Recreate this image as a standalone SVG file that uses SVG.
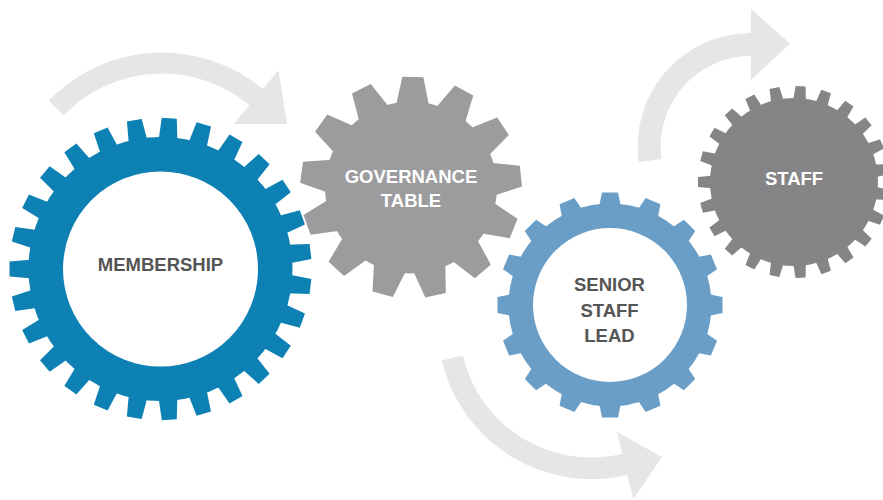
<svg xmlns="http://www.w3.org/2000/svg" width="883" height="500" viewBox="0 0 883 500">
<style>
.arrow{fill:#e6e6e6}
.lbl{font-family:"Liberation Sans",Arial,sans-serif;font-weight:bold;font-size:18.5px;text-anchor:middle}
.dark{fill:#555555}
.light{fill:#ffffff}
.blue{fill:#0e81b4}
.lblue{fill:#6a9ec6}
.gray{fill:#9c9c9e}
.dgray{fill:#858587}
</style>
<defs>
<polygon id="tM" points="128,-9.5 151,-7.5 151,7.5 128,9.5"/>
<polygon id="tG" points="82,-16.5 110.5,-10.5 110.5,10.5 82,16.5"/>
<polygon id="tS" points="98,-11 112.5,-8 112.5,8 98,11"/>
<polygon id="tF" points="80,-6.5 96,-5 96,5 80,6.5"/>
</defs>
<g id="connectors">
<path class="arrow" d="M48.7,100.6 A157.5,157.5 0 0 1 262.8,89 L278.5,70.2 L287,124 L233.7,124 L249.4,105.1 A136.5,136.5 0 0 0 63.8,115.2 Z"/>
<path class="arrow" d="M638.7,162.2 A113.4,113.4 0 0 1 751,33 L751,9 L790,43.5 L751,80 L751,56 A90.4,90.4 0 0 0 661.5,159 Z"/>
<path class="arrow" d="M441.7,360.5 A154,154 0 0 0 627.3,474.9 L633.3,499.3 L662,457 L617,432 L622.3,454 A132.5,132.5 0 0 1 462.7,355.6 Z"/>
</g>
<g id="membership">
<g transform="translate(160.5,269)" class="blue">
<circle r="114.75" fill="none" stroke="#0e81b4" stroke-width="34.5"/>
<use href="#tM" transform="rotate(6.667)"/><use href="#tM" transform="rotate(20)"/><use href="#tM" transform="rotate(33.333)"/>
<use href="#tM" transform="rotate(46.667)"/><use href="#tM" transform="rotate(60)"/><use href="#tM" transform="rotate(73.333)"/>
<use href="#tM" transform="rotate(86.667)"/><use href="#tM" transform="rotate(100)"/><use href="#tM" transform="rotate(113.333)"/>
<use href="#tM" transform="rotate(126.667)"/><use href="#tM" transform="rotate(140)"/><use href="#tM" transform="rotate(153.333)"/>
<use href="#tM" transform="rotate(166.667)"/><use href="#tM" transform="rotate(180)"/><use href="#tM" transform="rotate(193.333)"/>
<use href="#tM" transform="rotate(206.667)"/><use href="#tM" transform="rotate(220)"/><use href="#tM" transform="rotate(233.333)"/>
<use href="#tM" transform="rotate(246.667)"/><use href="#tM" transform="rotate(260)"/><use href="#tM" transform="rotate(273.333)"/>
<use href="#tM" transform="rotate(286.667)"/><use href="#tM" transform="rotate(300)"/><use href="#tM" transform="rotate(313.333)"/>
<use href="#tM" transform="rotate(326.667)"/><use href="#tM" transform="rotate(340)"/><use href="#tM" transform="rotate(353.333)"/>
</g>
<text class="lbl dark" x="160.5" y="271">MEMBERSHIP</text>
</g>
<g id="governance">
<g transform="translate(411,187.5)" class="gray">
<circle r="86"/>
<use href="#tG" transform="rotate(-89)"/><use href="#tG" transform="rotate(-61.308)"/><use href="#tG" transform="rotate(-33.615)"/>
<use href="#tG" transform="rotate(-5.923)"/><use href="#tG" transform="rotate(21.769)"/><use href="#tG" transform="rotate(49.462)"/>
<use href="#tG" transform="rotate(77.154)"/><use href="#tG" transform="rotate(104.846)"/><use href="#tG" transform="rotate(132.538)"/>
<use href="#tG" transform="rotate(160.231)"/><use href="#tG" transform="rotate(187.923)"/><use href="#tG" transform="rotate(215.615)"/>
<use href="#tG" transform="rotate(243.308)"/>
</g>
<text class="lbl light" x="411" y="182.5">GOVERNANCE</text>
<text class="lbl light" x="411" y="206.7">TABLE</text>
</g>
<g id="senior">
<g transform="translate(610,305)" class="lblue">
<circle r="89.25" fill="none" stroke="#6a9ec6" stroke-width="24.5"/>
<use href="#tS" transform="rotate(0)"/><use href="#tS" transform="rotate(22.5)"/><use href="#tS" transform="rotate(45)"/>
<use href="#tS" transform="rotate(67.5)"/><use href="#tS" transform="rotate(90)"/><use href="#tS" transform="rotate(112.5)"/>
<use href="#tS" transform="rotate(135)"/><use href="#tS" transform="rotate(157.5)"/><use href="#tS" transform="rotate(180)"/>
<use href="#tS" transform="rotate(202.5)"/><use href="#tS" transform="rotate(225)"/><use href="#tS" transform="rotate(247.5)"/>
<use href="#tS" transform="rotate(270)"/><use href="#tS" transform="rotate(292.5)"/><use href="#tS" transform="rotate(315)"/>
<use href="#tS" transform="rotate(337.5)"/>
</g>
<text class="lbl dark" x="609.5" y="290.7">SENIOR</text>
<text class="lbl dark" x="609.5" y="316.7">STAFF</text>
<text class="lbl dark" x="609.5" y="342.3">LEAD</text>
</g>
<g id="staff">
<g transform="translate(794,182)" class="dgray">
<circle r="84"/>
<use href="#tF" transform="rotate(7.826)"/><use href="#tF" transform="rotate(23.478)"/><use href="#tF" transform="rotate(39.13)"/>
<use href="#tF" transform="rotate(54.783)"/><use href="#tF" transform="rotate(70.435)"/><use href="#tF" transform="rotate(86.087)"/>
<use href="#tF" transform="rotate(101.739)"/><use href="#tF" transform="rotate(117.391)"/><use href="#tF" transform="rotate(133.043)"/>
<use href="#tF" transform="rotate(148.696)"/><use href="#tF" transform="rotate(164.348)"/><use href="#tF" transform="rotate(180)"/>
<use href="#tF" transform="rotate(195.652)"/><use href="#tF" transform="rotate(211.304)"/><use href="#tF" transform="rotate(226.957)"/>
<use href="#tF" transform="rotate(242.609)"/><use href="#tF" transform="rotate(258.261)"/><use href="#tF" transform="rotate(273.913)"/>
<use href="#tF" transform="rotate(289.565)"/><use href="#tF" transform="rotate(305.217)"/><use href="#tF" transform="rotate(320.87)"/>
<use href="#tF" transform="rotate(336.522)"/><use href="#tF" transform="rotate(352.174)"/>
</g>
<text class="lbl light" x="794" y="185">STAFF</text>
</g>
</svg>
